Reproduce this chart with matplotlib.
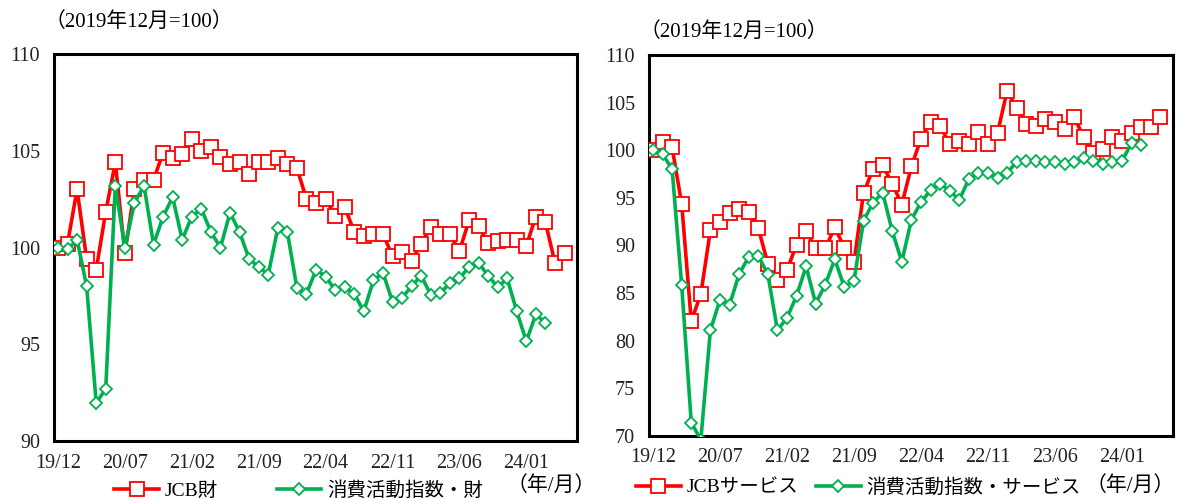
import matplotlib
matplotlib.use("Agg")
import matplotlib.pyplot as plt
import numpy as np

plt.rcParams['font.family'] = ['Liberation Serif', 'Noto Sans CJK JP']

# データ (2019年12月=100), 19/12 から月次
jcb_goods = [100.0, 100.2, 103.0, 99.4, 98.85, 101.85, 104.4, 99.7, 103.0, 103.5,
             103.5, 104.9, 104.6, 104.85, 105.6, 105.0, 105.2, 104.7, 104.3, 104.4,
             103.8, 104.4, 104.4, 104.6, 104.3, 104.1, 102.5, 102.3, 102.5, 101.65,
             102.1, 100.8, 100.6, 100.7, 100.7, 99.55, 99.75, 99.3, 100.2, 101.05,
             100.7, 100.7, 99.8, 101.4, 101.1, 100.25, 100.35, 100.4, 100.4, 100.1,
             101.6, 101.3, 99.2, 99.7]
cai_goods = [100.0, 99.9, 100.4, 98.0, 91.97, 92.7, 103.2, 100.0, 102.3, 103.2,
             100.15, 101.6, 102.6, 100.4, 101.6, 102.0, 100.8, 100.0, 101.8, 100.8,
             99.4, 99.0, 98.6, 101.0, 100.8, 97.9, 97.6, 98.85, 98.5, 97.8,
             97.95, 97.6, 96.7, 98.3, 98.7, 97.2, 97.4, 98.0, 98.55, 97.55,
             97.65, 98.15, 98.4, 99.0, 99.2, 98.55, 97.95, 98.4, 96.7, 95.15,
             96.55, 96.1]
jcb_serv = [100.0, 100.9, 100.3, 94.35, 82.05, 84.9, 91.6, 92.45, 93.45, 93.8,
            93.5, 91.85, 88.1, 86.4, 87.4, 90.1, 91.5, 89.7, 89.7, 91.9,
            89.75, 88.25, 95.5, 98.05, 98.4, 96.5, 94.3, 98.3, 101.2, 103.0,
            102.5, 100.7, 101.0, 100.7, 101.95, 100.7, 101.8, 106.25, 104.4, 102.75,
            102.5, 103.3, 102.95, 102.2, 103.5, 101.35, 99.7, 100.1, 101.4, 101.0,
            101.85, 102.4, 102.4, 103.45]
cai_serv = [100.0, 99.6, 98.0, 85.8, 71.4, 69.6, 81.1, 84.3, 83.75, 87.0,
            88.8, 88.9, 87.0, 81.1, 82.4, 84.7, 87.8, 83.9, 85.9, 88.55,
            85.6, 86.3, 92.6, 94.5, 95.55, 91.5, 88.3, 92.7, 94.55, 95.8,
            96.5, 95.75, 94.8, 96.95, 97.65, 97.65, 97.05, 97.6, 98.8, 98.85,
            98.85, 98.8, 98.75, 98.6, 98.75, 99.2, 98.85, 98.6, 98.75, 98.85,
            100.75, 100.6]
tick_labels = ['19/12', '20/07', '21/02', '21/09', '22/04', '22/11', '23/06', '24/01']

RED = '#FF0000'
GREEN = '#00B050'

fig = plt.figure(figsize=(11.78, 4.99), dpi=100)
ax1 = fig.add_axes([0.0458, 0.1162, 0.444, 0.7756])
ax2 = fig.add_axes([0.5509, 0.1263, 0.4446, 0.7635])


def draw(ax, red, green, red_label, green_label, ylim, colspace, leg_x, leg_y):
    ax.plot(np.arange(len(red)), red, color=RED, lw=2.6, marker='s', ms=9.5,
            mfc='white', mec=RED, mew=1.3, label=red_label, zorder=3)
    ax.plot(np.arange(len(green)), green, color=GREEN, lw=2.6, marker='D', ms=5.8,
            mfc='white', mec=GREEN, mew=1.3, label=green_label, zorder=4)
    ax.set_xlim(-0.42, 54.3)
    ax.set_ylim(*ylim)
    ax.set_yticks(np.arange(ylim[0], ylim[1] + 1, 5))
    ax.set_xticks(np.arange(0, 50, 7))
    ax.set_xticklabels(tick_labels)
    ax.tick_params(length=0, labelsize=14.5, colors='#222222')
    ax.tick_params(axis='y', pad=10)
    ax.tick_params(axis='x', pad=9)
    for sp in ax.spines.values():
        sp.set_linewidth(2.2)
        sp.set_color('black')
    ax.legend(loc='center', bbox_to_anchor=(leg_x, leg_y), ncol=2, frameon=False,
              fontsize=14, handlelength=2.3, handletextpad=0.3,
              columnspacing=colspace, borderpad=0)


draw(ax1, jcb_goods, cai_goods, 'JCB財', '消費活動指数・財', (90, 110), 3.0, 0.468, -0.129)
draw(ax2, jcb_serv, cai_serv, 'JCBサービス', '消費活動指数・サービス', (70, 110), 0.9, 0.40, -0.134)

fig.text(0.038, 0.956, '（2019年12月=100）', fontsize=15, va='center', ha='left')
fig.text(0.543, 0.936, '（2019年12月=100）', fontsize=15, va='center', ha='left')
fig.text(0.468, 0.026, '（年/月）', fontsize=15, va='center', ha='center')
fig.text(0.997, 0.026, '（年/月）', fontsize=15, va='center', ha='right')

fig.savefig('out.png', dpi=100)
